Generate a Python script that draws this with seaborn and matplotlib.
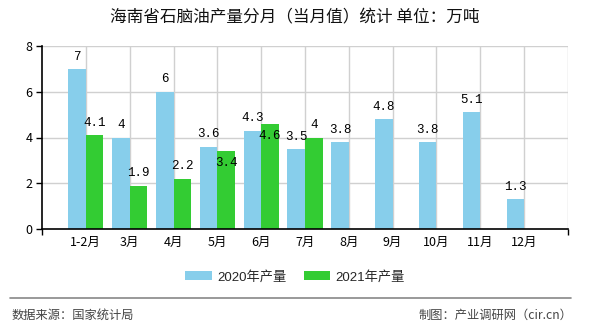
import matplotlib
matplotlib.use("Agg")
import matplotlib.pyplot as plt
import seaborn as sns
import pandas as pd
from matplotlib.lines import Line2D
from matplotlib.patches import Patch

months = ['1-2月', '3月', '4月', '5月', '6月', '7月', '8月', '9月', '10月', '11月', '12月']
v2020 = [7, 4, 6, 3.6, 4.3, 3.5, 3.8, 4.8, 3.8, 5.1, 1.3]
v2021 = [4.1, 1.9, 2.2, 3.4, 4.6, 4]
series = ['2020年产量', '2021年产量']
colors = ['#87CEEB', '#33CC33']
yticks = [0, 2, 4, 6, 8]

rows = []
for i, v in enumerate(v2020):
    rows.append({'pos': i + 1, 'val': v, 'series': series[0]})
for i, v in enumerate(v2021):
    rows.append({'pos': i + 1, 'val': v, 'series': series[1]})
df = pd.DataFrame(rows)

sns.set_theme(style='white')
plt.rcParams['font.family'] = ['Noto Sans CJK SC', 'DejaVu Sans']

fig = plt.figure(figsize=(5.9, 3.3), dpi=100)
ax = fig.add_axes([42 / 590, 1 - 229 / 330, 526 / 590, 183 / 330])

sns.barplot(data=df, x='pos', y='val', hue='series', hue_order=series,
            palette=colors, native_scale=True, width=0.8, ax=ax,
            saturation=1, legend=False, errorbar=None, linewidth=0)

ax.set_xlim(0, 12)
ax.set_ylim(0, 8)
ax.set_xlabel('')
ax.set_ylabel('')

# gridlines
for x in range(1, 13):
    ax.axvline(x, color='#d0d0d0', lw=1, zorder=0)
for y in yticks[1:]:
    ax.axhline(y, color='#d0d0d0', lw=1, zorder=0)

ax.set_xticks(range(1, 12))
ax.set_xticklabels(months, fontsize=9, color='#000000')
ax.set_xticks([0, 12], minor=True)
ax.tick_params(axis='x', which='major', length=0, pad=5)
ax.tick_params(axis='x', which='minor', length=4, width=1, color='black', direction='out', bottom=True)
ax.set_yticks(yticks)
ax.set_yticklabels([str(t) for t in yticks], fontsize=9, color='#000000')
ax.tick_params(axis='y', length=4, width=1, color='black', direction='out', left=True, pad=3)

for s in ['top', 'right']:
    ax.spines[s].set_visible(False)
for s in ['left', 'bottom']:
    ax.spines[s].set_visible(True)
    ax.spines[s].set_color('black')
    ax.spines[s].set_linewidth(1.2)

# value labels
special = {(1, 3): -13, (1, 4): -13}
for si, vals in enumerate([v2020, v2021]):
    for i, v in enumerate(vals):
        x = i + 1 + (-0.2 if si == 0 else 0.2)
        off = special.get((si, i), 4.5)
        txt = ('%g' % v)
        ax.annotate(txt, (x, v), xytext=(0, off), textcoords='offset points',
                    ha='center', va='bottom', fontsize=9,
                    family=['Liberation Mono', 'DejaVu Sans Mono'], color='black')

fig.text(0.5, 1 - 18 / 330, '海南省石脑油产量分月（当月值）统计 单位：万吨',
         ha='center', va='center', fontsize=12, color='#111111')

handles = [Patch(facecolor=c, edgecolor='none', label=l) for c, l in zip(colors, series)]
fig.legend(handles=handles, loc='center', bbox_to_anchor=(295 / 590, 1 - 277 / 330),
           ncol=2, frameon=False, handlelength=2.0, handleheight=0.7,
           handletextpad=0.4, columnspacing=1.3,
           prop={'family': ['Liberation Sans', 'Noto Sans CJK SC'], 'size': 9.5})

fig.add_artist(Line2D([10 / 590, 571 / 590], [1 - 298 / 330, 1 - 298 / 330],
                      color='#888888', lw=1.2, transform=fig.transFigure))
fig.text(12 / 590, 1 - 315 / 330, '数据来源：国家统计局', ha='left', va='center',
         fontsize=8.8, color='#444444')
fig.text(572 / 590, 1 - 315 / 330, '制图：产业调研网（cir.cn）', ha='right', va='center',
         fontsize=8.8, color='#444444')

fig.savefig('out.png', dpi=100)
